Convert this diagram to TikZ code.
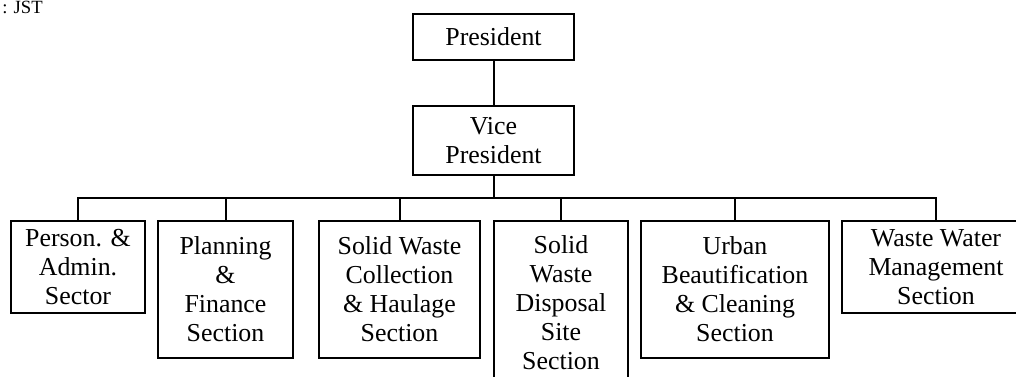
\documentclass[tikz,border=0pt]{standalone}
\usepackage{fontspec}
\setmainfont{Liberation Serif}
\begin{document}
\begin{tikzpicture}[x=0.75pt,y=-0.75pt,
  box/.style={draw, line width=1.5pt, inner sep=0pt, align=center,
    font=\fontsize{19.4}{21.75}\selectfont},
  conn/.style={line width=1.5pt}]
\useasboundingbox (0,0) rectangle (1016,376);
\node[anchor=base east, font=\fontsize{14}{16}\selectfont, inner sep=0pt] (src) at (43,13) {: JST};
\node[box, minimum width=161*0.75pt, minimum height=46*0.75pt] (P) at (493.5,37) {President};
\node[box, minimum width=161*0.75pt, minimum height=69*0.75pt] (VP) at (493.5,140.5) {Vice\\President};
\node[box, minimum width=134*0.75pt, minimum height=92*0.75pt] (B1) at (78,267) {Person. \&\\Admin.\\Sector};
\node[box, minimum width=135*0.75pt, minimum height=137*0.75pt] (B2) at (225.5,289.5) {Planning\\\&\\Finance\\Section};
\node[box, minimum width=161*0.75pt, minimum height=137*0.75pt] (B3) at (399.5,289.5) {Solid Waste\\Collection\\\& Haulage\\Section};
\node[box, minimum width=134*0.75pt, minimum height=163*0.75pt] (B4) at (561,302.5) {Solid\\Waste\\Disposal\\Site\\Section};
\node[box, minimum width=188*0.75pt, minimum height=137*0.75pt] (B5) at (735,289.5) {Urban\\Beautification\\\& Cleaning\\Section};
\node[box, minimum width=188*0.75pt, minimum height=92*0.75pt] (B6) at (936,267) {Waste Water\\Management\\Section};
\coordinate (bar) at (493.5,198);
\draw[conn] (P) -- (VP);
\draw[conn] (VP.south) -- (bar);
\draw[conn] (B1.north) -- (B1.north |- bar) -- (B6.north |- bar) -- (B6.north);
\foreach \b in {B2,B3,B4,B5} \draw[conn] (\b.north) -- (\b.north |- bar);
\end{tikzpicture}
\end{document}
